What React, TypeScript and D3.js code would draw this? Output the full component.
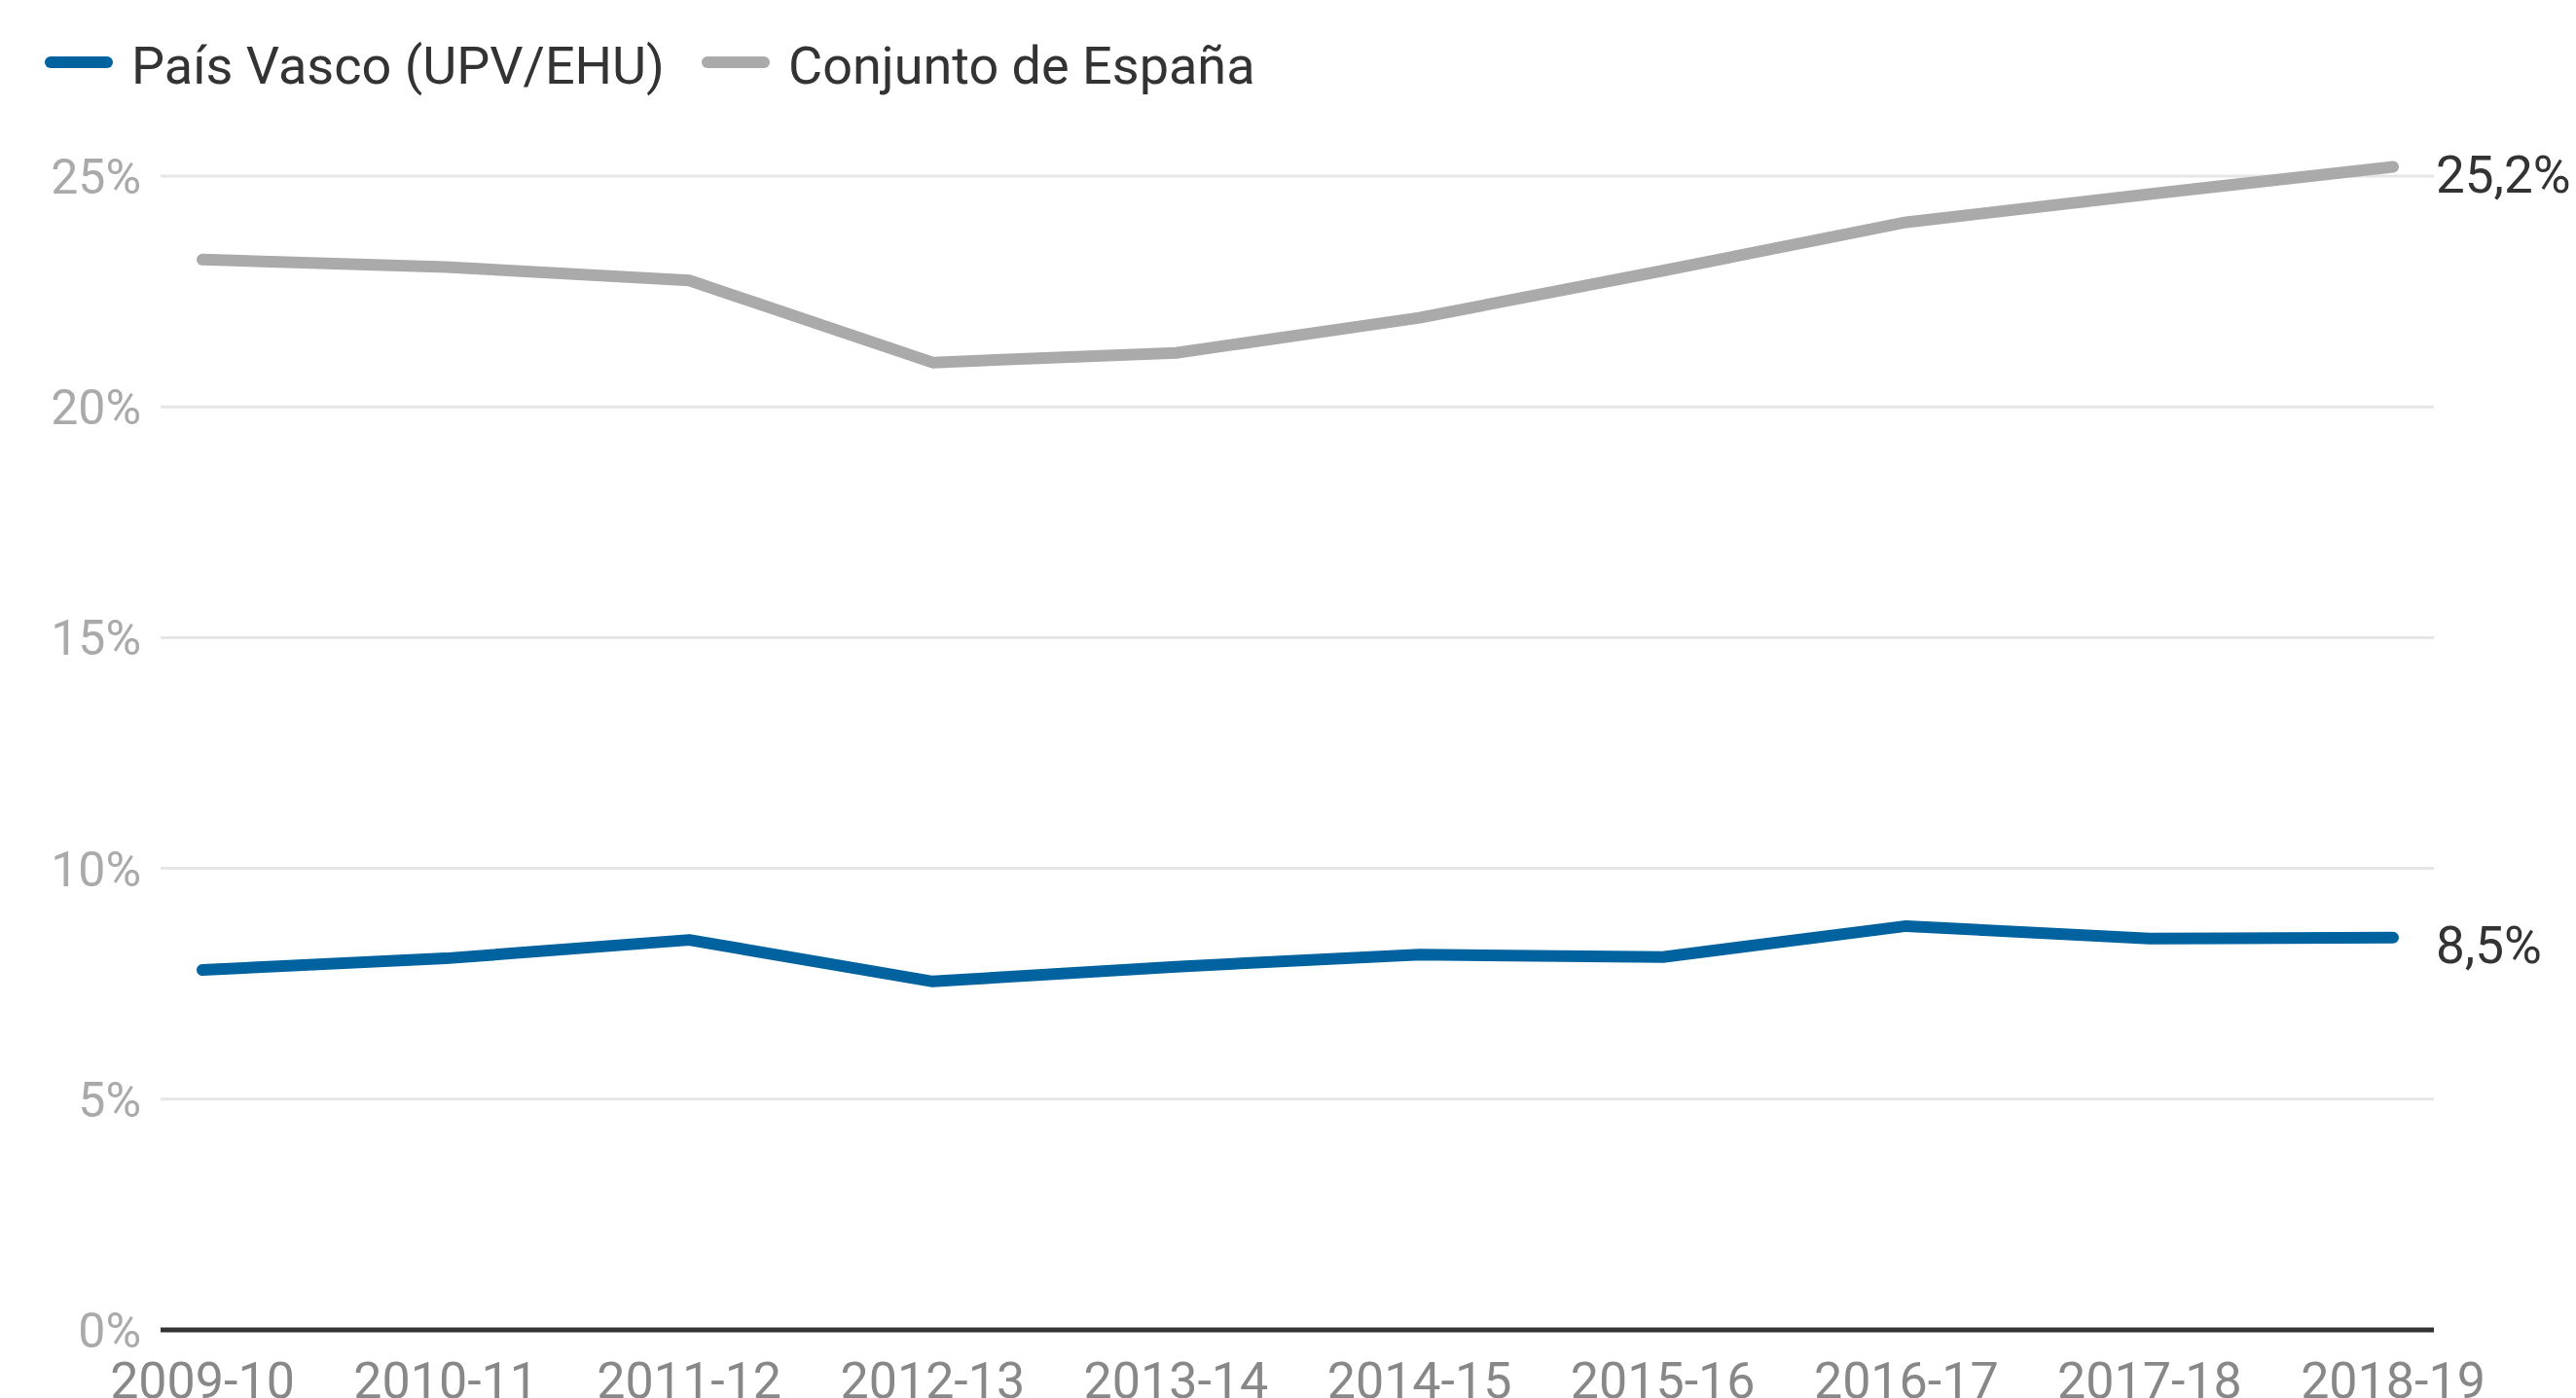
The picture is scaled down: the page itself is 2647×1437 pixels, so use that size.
import React from 'react';
import * as d3 from 'd3';

const years = ['2009-10', '2010-11', '2011-12', '2012-13', '2013-14', '2014-15', '2015-16', '2016-17', '2017-18', '2018-19'];
const paisVasco = [7.8, 8.05, 8.45, 7.55, 7.87, 8.13, 8.08, 8.75, 8.48, 8.5];
const espana = [23.19, 23.03, 22.74, 20.96, 21.17, 21.93, 22.95, 24.0, 24.61, 25.2];
const yTicks = [0, 5, 10, 15, 20, 25];

const series = [
  { name: 'País Vasco (UPV/EHU)', values: paisVasco, color: '#00629e', label: '8,5%' },
  { name: 'Conjunto de España', values: espana, color: '#aaaaaa', label: '25,2%' },
];

const W = 2647;
const H = 1437;
const font = 'Roboto, "Noto Sans", sans-serif';

export default function App() {
  const x = d3.scalePoint<string>().domain(years).range([208, 2459]);
  const y = d3.scaleLinear().domain([0, 25]).range([1367, 181]);
  const line = d3.line<number>()
    .x((_, i) => x(years[i]) as number)
    .y(d => y(d));

  const legendX = [46, 721];

  return (
    <svg width={W} height={H} style={{ position: 'absolute', left: 0, top: 0, background: '#fff' }} fontFamily={font}>
      {/* legend */}
      {series.map((s, i) => (
        <g key={s.name}>
          <line x1={legendX[i] + 6} x2={legendX[i] + 64} y1={64} y2={64} stroke={s.color} strokeWidth={12} strokeLinecap="round" />
          <text x={legendX[i] + 89} y={86} fontSize={54} fill="#333">{s.name}</text>
        </g>
      ))}

      {/* grid + y labels */}
      {yTicks.map(t => (
        <g key={t}>
          {t > 0 && <line x1={165} x2={2501} y1={y(t)} y2={y(t)} stroke="#e6e6e6" strokeWidth={3} />}
          <text x={145} y={y(t) + 18} textAnchor="end" fontSize={50} fill="#aaaaaa">{t}%</text>
        </g>
      ))}

      {/* baseline */}
      <line x1={165} x2={2501} y1={y(0)} y2={y(0)} stroke="#333" strokeWidth={5} />

      {/* x labels */}
      {years.map(yr => (
        <text key={yr} x={x(yr)} y={1437} textAnchor="middle" fontSize={52} fill="#888">{yr}</text>
      ))}

      {/* lines */}
      {series.slice().reverse().map(s => (
        <path key={s.name} d={line(s.values) || ''} fill="none" stroke={s.color} strokeWidth={12}
          strokeLinecap="round" strokeLinejoin="round" />
      ))}

      {/* end labels */}
      {series.map(s => {
        const last = s.values[s.values.length - 1];
        return (
          <text key={s.name} x={2503} y={y(last) + 26} fontSize={53} fill="#333">{s.label}</text>
        );
      })}
    </svg>
  );
}
